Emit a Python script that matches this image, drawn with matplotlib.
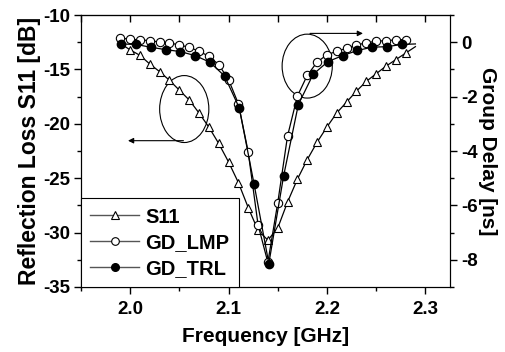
import numpy as np
import matplotlib
matplotlib.use('Agg')
import matplotlib.pyplot as plt
from matplotlib.lines import Line2D
from matplotlib.patches import Ellipse
from matplotlib.ticker import MultipleLocator

plt.rcParams['font.family'] = 'Liberation Sans'
plt.rcParams['font.weight'] = 'bold'
plt.rcParams['axes.unicode_minus'] = False

# S11 [dB]
f_s11 = [1.99, 2.00, 2.01, 2.02, 2.03, 2.04, 2.05, 2.06, 2.07, 2.08, 2.09,
         2.10, 2.11, 2.12, 2.13, 2.14, 2.15, 2.16, 2.17, 2.18, 2.19, 2.20,
         2.21, 2.22, 2.23, 2.24, 2.25, 2.26, 2.27, 2.28, 2.29]
s11 = [-12.6, -13.2, -13.7, -14.5, -15.2, -16.0, -16.9, -17.8, -19.0, -20.3, -21.8,
       -23.5, -25.4, -27.7, -29.8, -30.7, -29.6, -27.2, -25.1, -23.3, -21.7, -20.3,
       -19.0, -18.0, -17.0, -16.1, -15.4, -14.7, -14.1, -13.5, -12.9]

# group delay, LMP [ns]
f_lmp = [1.99, 2.00, 2.01, 2.02, 2.03, 2.04, 2.05, 2.06, 2.07, 2.08, 2.09,
         2.10, 2.11, 2.12, 2.13, 2.14, 2.15, 2.16, 2.17, 2.18, 2.19, 2.20,
         2.21, 2.22, 2.23, 2.24, 2.25, 2.26, 2.27, 2.28]
gd_lmp = [0.16, 0.11, 0.09, 0.06, 0.01, -0.02, -0.10, -0.18, -0.33, -0.51, -0.82,
          -1.37, -2.26, -4.03, -6.71, -8.10, -5.92, -3.45, -1.98, -1.22, -0.73, -0.46,
          -0.33, -0.22, -0.10, -0.02, 0.04, 0.06, 0.09, 0.10]

# group delay, TRL [ns]
f_trl = [1.991, 2.006, 2.021, 2.036, 2.051, 2.066, 2.081, 2.096, 2.111, 2.126, 2.141,
         2.156, 2.171, 2.186, 2.201, 2.216, 2.231, 2.246, 2.261, 2.276, 2.29]
gd_trl = [-0.06, -0.08, -0.18, -0.27, -0.34, -0.49, -0.73, -1.24, -2.42, -5.22, -8.14,
          -4.92, -2.29, -1.18, -0.71, -0.49, -0.30, -0.18, -0.16, -0.08, -0.06]

fig = plt.figure(figsize=(5.06, 3.52), dpi=100)
ax = fig.add_axes([0.160, 0.185, 0.729, 0.772])
ax2 = ax.twinx()

ax.plot(f_s11, s11, color='black', lw=0.9, marker='^', ms=6, mfc='white',
        mec='black', mew=0.8, markevery=slice(1, -1), zorder=3)
ax2.plot(f_lmp, gd_lmp, color='black', lw=0.9, marker='o', ms=6, mfc='white',
         mec='black', mew=0.8, zorder=3)
ax2.plot(f_trl, gd_trl, color='black', lw=0.9, marker='o', ms=6, mfc='black',
         mec='black', markevery=slice(0, -1), zorder=4)

ax.set_xlim(1.95, 2.325)
ax.set_ylim(-35, -10)
ax2.set_ylim(-9, 1)

ax.xaxis.set_major_locator(MultipleLocator(0.1))
ax.xaxis.set_minor_locator(MultipleLocator(0.05))
ax.yaxis.set_major_locator(MultipleLocator(5))
ax.yaxis.set_minor_locator(MultipleLocator(2.5))
ax2.yaxis.set_major_locator(MultipleLocator(2))
ax2.yaxis.set_minor_locator(MultipleLocator(1))
ax.xaxis.set_major_formatter(matplotlib.ticker.FormatStrFormatter('%.1f'))

ax.tick_params(which='major', direction='out', length=5, width=1, labelsize=13.5, pad=3)
ax.tick_params(axis='x', which='major', pad=5)
ax.tick_params(which='minor', direction='out', length=3, width=1)
ax2.tick_params(which='major', direction='out', length=5, width=1, labelsize=13.5, pad=3)
ax2.tick_params(which='minor', direction='out', length=3, width=1)
for lab in ax.get_xticklabels() + ax.get_yticklabels() + ax2.get_yticklabels():
    lab.set_fontweight('bold')

top = ax.secondary_xaxis('top')
top.xaxis.set_major_locator(MultipleLocator(0.05))
top.tick_params(direction='in', length=5, width=1, labeltop=False)

ax.set_xlabel('Frequency [GHz]', fontsize=15, fontweight='bold', labelpad=7)
ax.set_ylabel('Reflection Loss S11 [dB]', fontsize=16.5, fontweight='bold', labelpad=1)
ax2.set_ylabel('Group Delay [ns]', fontsize=15, fontweight='bold', rotation=270, labelpad=14)

# annotation ellipses and arrows
ax.add_patch(Ellipse((2.055, -18.64), 0.050, 6.16, fill=False, lw=0.8, ec='black', zorder=2))
ax.annotate('', xy=(1.995, -21.55), xytext=(2.057, -21.55),
            arrowprops=dict(arrowstyle='-|>', lw=0.8, color='black', mutation_scale=8))
ax.add_patch(Ellipse((2.180, -14.69), 0.051, 5.88, fill=False, lw=0.8, ec='black', zorder=2))
ax.annotate('', xy=(2.2395, -11.68), xytext=(2.180, -11.68),
            arrowprops=dict(arrowstyle='-|>', lw=0.8, color='black', mutation_scale=8))

handles = [
    Line2D([], [], color='#555555', lw=1, marker='^', ms=5.5, mfc='white', mec='black', mew=0.8),
    Line2D([], [], color='#555555', lw=1, marker='o', ms=5.5, mfc='white', mec='black', mew=0.8),
    Line2D([], [], color='#555555', lw=1, marker='o', ms=5.5, mfc='black', mec='black'),
]
leg = ax2.legend(handles, ['S11', 'GD_LMP', 'GD_TRL'], loc='lower left',
                 bbox_to_anchor=(0, 0), borderaxespad=0, fancybox=False,
                 edgecolor='black', framealpha=1, handlelength=2.45,
                 handletextpad=0.3, labelspacing=0.33, borderpad=0.45,
                 prop={'size': 14.5, 'weight': 'bold'})
leg.get_frame().set_linewidth(0.8)

fig.savefig('out.png', dpi=100)
